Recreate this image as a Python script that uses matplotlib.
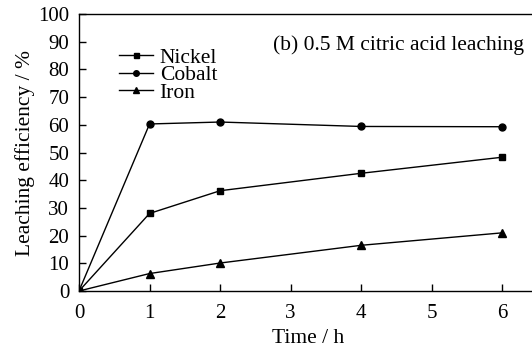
import matplotlib
matplotlib.use("Agg")
import matplotlib.pyplot as plt

plt.rcParams['font.family'] = ['Liberation Serif', 'DejaVu Serif']

time_h = [0, 1, 2, 4, 6]
nickel = [0, 28.0, 36.2, 42.5, 48.3]
cobalt = [0, 60.3, 61.0, 59.4, 59.3]
iron = [0, 6.3, 10.1, 16.5, 21.0]

fig = plt.figure(figsize=(5.32, 3.49), dpi=100)
ax = fig.add_axes([79 / 532, 58 / 349, (532 - 79) / 532 + 0.01, (291 - 14) / 349])

ax.plot(time_h, nickel, color="black", lw=1, marker="s", ms=4.5, label="Nickel")
ax.plot(time_h, cobalt, color="black", lw=1, marker="o", ms=5, label="Cobalt")
ax.plot(time_h, iron, color="black", lw=1, marker="^", ms=6, label="Iron")

ax.set_xlim(0, (532 - 79) / 70.5 + 0.07)
ax.set_ylim(0, 100)
ax.set_xticks([0, 1, 2, 3, 4, 5, 6])
ax.set_yticks(range(0, 101, 10))
ax.tick_params(direction="in", length=5, width=1, labelsize=15)
ax.tick_params(axis="x", pad=9)
ax.tick_params(axis="y", pad=7)
for s in ["left", "bottom", "top"]:
    ax.spines[s].set_linewidth(1)
ax.spines["right"].set_visible(False)

ax.set_xlabel("Time / h", fontsize=15.5, labelpad=5)
ax.set_ylabel("Leaching efficiency / %", fontsize=15.5, labelpad=2)

ax.text(6.30, 88.8, "(b) 0.5 M citric acid leaching",
        fontsize=15.5, ha="right", va="center")

ax.legend(loc="upper left", bbox_to_anchor=(108 / 532, 1 - 37 / 349),
          bbox_transform=fig.transFigure, frameon=False, fontsize=15.5,
          handlelength=1.6, handletextpad=0.3, labelspacing=-0.12, borderpad=0,
          markerscale=0.8)

fig.savefig("out.png", dpi=100)
